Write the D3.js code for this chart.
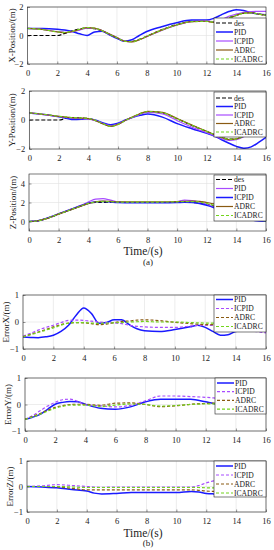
<!DOCTYPE html>
<html>
<head>
<meta charset="utf-8">
<script src="https://cdn.jsdelivr.net/npm/d3@7"></script>
<style>
body { margin: 0; background: #fff; }
svg text { font-family: "Liberation Serif", "Times New Roman", serif; fill: #222; }
</style>
</head>
<body>
<div id="chart"></div>
<script>
// ---- data ----
var xTicks = [0, 2, 4, 6, 8, 10, 12, 14, 16];

// (a) positions
var tPos = [0,1,2,2.5,3,3.5,4,4.5,5,5.5,6,6.5,7,7.5,8,9,10,11,12,12.5,13,13.5,14,14.5,15,15.5,16];
var xDes    = [0,0,0,0.15,0.32,0.46,0.52,0.48,0.32,0.08,-0.18,-0.38,-0.42,-0.27,-0.05,0.4,0.76,0.99,1.01,0.95,1.08,1.25,1.42,1.56,1.6,1.5,1.42];
var xPID    = [0.5,0.5,0.44,0.38,0.28,0.12,0.0,0.25,0.3,0.05,-0.2,-0.4,-0.3,0.0,0.28,0.62,0.9,1.08,1.08,1.2,1.45,1.68,1.8,1.75,1.6,1.5,1.45];
var xICPID  = [0.5,0.43,0.27,0.22,0.26,0.38,0.52,0.5,0.35,0.1,-0.14,-0.38,-0.44,-0.3,-0.08,0.36,0.72,0.98,1.02,0.96,1.1,1.35,1.5,1.62,1.68,1.7,1.7];
var xADRC   = [0.5,0.42,0.25,0.2,0.28,0.42,0.55,0.52,0.35,0.1,-0.15,-0.4,-0.45,-0.3,-0.07,0.38,0.74,0.98,1.0,0.92,1.05,1.2,1.4,1.58,1.6,1.5,1.42];
var xICADRC = [0.5,0.42,0.26,0.21,0.3,0.44,0.56,0.52,0.34,0.08,-0.16,-0.4,-0.44,-0.29,-0.06,0.38,0.74,0.97,0.99,0.95,1.06,1.22,1.4,1.55,1.58,1.5,1.42];

var yDes    = [0,0,0,0.12,0.16,0.14,0.1,-0.04,-0.26,-0.42,-0.28,-0.02,0.2,0.42,0.58,0.5,0.08,-0.38,-0.8,-1.0,-1.2,-1.32,-1.3,-1.1,-0.8,-0.5,-0.3];
var yPID    = [0.48,0.38,0.23,0.12,0.03,0.05,0.09,-0.02,-0.2,-0.32,-0.22,0.0,0.18,0.32,0.41,0.2,-0.25,-0.6,-0.92,-1.1,-1.36,-1.6,-1.82,-1.95,-1.85,-1.55,-1.2];
var yICPID  = [0.5,0.37,0.24,0.18,0.12,0.1,0.08,-0.06,-0.26,-0.4,-0.28,-0.03,0.2,0.4,0.52,0.42,-0.05,-0.5,-0.88,-1.08,-1.28,-1.4,-1.35,-1.15,-0.85,-0.55,-0.35];
var yADRC   = [0.5,0.38,0.25,0.2,0.15,0.13,0.1,-0.05,-0.28,-0.44,-0.3,-0.02,0.22,0.45,0.6,0.52,0.1,-0.35,-0.78,-1.0,-1.2,-1.35,-1.3,-1.1,-0.8,-0.5,-0.3];
var yICADRC = [0.5,0.39,0.26,0.21,0.16,0.14,0.11,-0.04,-0.27,-0.43,-0.3,-0.03,0.21,0.44,0.58,0.5,0.08,-0.37,-0.8,-1.0,-1.2,-1.33,-1.3,-1.1,-0.8,-0.5,-0.3];

var tZ = [0,0.5,1,1.5,2,2.5,3,3.5,4,4.5,5,5.5,6,7,8,9,10,10.5,11,11.5,12,12.5,13,14,15,16];
var zDes    = [0,0.04,0.22,0.48,0.78,1.06,1.35,1.64,1.9,2.0,2.0,2.0,2.0,2.0,2.0,2.0,2.0,2.0,2.0,1.95,1.8,1.6,1.35,0.8,0.3,0.05];
var zPID    = [0,0.05,0.25,0.52,0.82,1.1,1.4,1.7,2.05,2.35,2.4,2.25,2.08,2.0,2.0,2.0,2.1,2.25,2.2,2.05,1.8,1.5,1.2,0.6,0.2,0.05];
var zICPID  = [0,0.05,0.24,0.5,0.8,1.08,1.37,1.65,1.92,2.08,2.1,2.05,2.0,1.98,1.98,1.98,2.0,2.02,2.0,1.9,1.7,1.45,1.15,0.55,0.15,0.02];
var zADRC   = [0,0.05,0.22,0.48,0.78,1.05,1.33,1.62,1.88,2.08,2.15,2.12,2.08,2.08,2.08,2.08,2.1,2.12,2.15,2.12,2.0,1.85,1.6,1.0,0.4,0.1];
var zICADRC = [0,0.05,0.23,0.49,0.79,1.06,1.35,1.63,1.9,2.05,2.1,2.08,2.05,2.05,2.05,2.05,2.07,2.1,2.1,2.05,1.9,1.7,1.45,0.85,0.3,0.05];

// (b) errors
var tEx = [0,0.5,1,1.5,2,2.5,3,3.5,4,4.5,5,5.5,6,6.5,7,7.5,8,9,10,11,11.5,12,12.5,13,13.5,14,15,16];
var exPID    = [-0.56,-0.57,-0.58,-0.55,-0.49,-0.35,-0.12,0.25,0.52,0.32,-0.05,-0.02,0.08,0.08,-0.1,-0.25,-0.32,-0.35,-0.28,-0.18,-0.12,-0.2,-0.35,-0.49,-0.47,-0.35,-0.3,-0.3];
var exICPID  = [-0.52,-0.42,-0.3,-0.2,-0.12,-0.02,0.06,0.07,0.06,0.03,0.0,-0.02,-0.04,-0.06,-0.12,-0.16,-0.18,-0.2,-0.2,-0.15,-0.13,-0.12,-0.13,-0.15,-0.2,-0.25,-0.33,-0.4];
var exADRC   = [-0.55,-0.46,-0.37,-0.28,-0.18,-0.1,-0.04,-0.02,-0.03,-0.06,-0.1,-0.08,-0.02,0.02,0.04,0.07,0.08,0.05,-0.01,-0.06,-0.08,-0.1,-0.1,-0.08,-0.06,-0.05,-0.05,-0.05];
var exICADRC = [-0.55,-0.47,-0.39,-0.3,-0.22,-0.12,-0.04,-0.02,-0.02,-0.04,-0.05,-0.04,-0.03,-0.02,0.0,0.01,0.02,0.0,0.0,-0.02,-0.03,-0.04,-0.04,-0.04,-0.04,-0.04,-0.04,-0.04];

var tEy = [0,0.5,1,1.5,2,2.5,3,3.5,4,5,6,7,8,9,10,11,12,12.5,13,14,15,16];
var eyPID    = [-0.56,-0.48,-0.37,-0.18,0.01,0.08,0.11,0.1,0.01,-0.14,-0.18,-0.09,0.1,0.2,0.2,0.2,0.1,0.04,0.0,-0.02,0.0,0.02];
var eyICPID  = [-0.56,-0.42,-0.24,-0.06,0.08,0.18,0.2,0.12,0.0,-0.05,-0.09,-0.03,0.14,0.32,0.32,0.3,0.27,0.25,0.22,0.15,0.1,0.05];
var eyADRC   = [-0.56,-0.45,-0.34,-0.22,-0.11,-0.04,0.0,0.01,0.01,-0.03,0.05,0.06,0.0,-0.08,-0.05,0.01,0.04,0.05,0.05,0.04,0.03,0.03];
var eyICADRC = [-0.56,-0.47,-0.37,-0.25,-0.14,-0.07,-0.02,-0.02,-0.02,-0.07,-0.02,0.02,0.0,-0.06,-0.04,0.0,0.02,0.02,0.02,0.02,0.02,0.02];

var tEz = [0,1,2,3,4,4.5,5,6,7,8,9,10,11,11.5,12,12.5,13,14,15,16];
var ezPID    = [0,-0.02,-0.05,-0.12,-0.18,-0.26,-0.29,-0.27,-0.24,-0.24,-0.24,-0.24,-0.2,-0.22,-0.27,-0.29,-0.3,-0.3,-0.3,-0.3];
var ezICPID  = [0,0.03,0.07,0.04,0.0,-0.02,-0.03,-0.02,-0.02,-0.02,-0.02,-0.02,-0.02,0.04,0.14,0.22,0.26,0.3,0.3,0.3];
var ezADRC   = [0,0.0,-0.02,-0.07,-0.13,-0.13,-0.13,-0.13,-0.13,-0.13,-0.13,-0.13,-0.13,-0.15,-0.18,-0.19,-0.2,-0.2,-0.2,-0.2];
var ezICADRC = [0,0,0,-0.02,-0.04,-0.04,-0.04,-0.04,-0.04,-0.04,-0.04,-0.04,-0.04,-0.04,-0.05,-0.05,-0.05,-0.05,-0.05,-0.05];

// styles
var C = { des: "#000", blue: "#1a1aff", violet: "#a84cff", brown: "#8a5a12", green: "#73d41c" };
function S(name, t, v, color, dash, w) { return { name: name, t: t, v: v, color: color, dash: dash, w: w || 1.2 }; }

var panels = [
  { top: 7, bottom: 64, left: 27.5, dom: [-2, 2], yt: [-2, 0, 2], label: "X-Position/(m)", lx: 12,
    leg: [214, 18, 64, 23, 9],
    series: [S("des", tPos, xDes, C.des, "4,2"), S("PID", tPos, xPID, C.blue, null, 1.5),
             S("ICPID", tPos, xICPID, C.violet), S("ADRC", tPos, xADRC, C.brown), S("ICADRC", tPos, xICADRC, C.green, "3,2")] },
  { top: 91, bottom: 149, left: 29.3, dom: [-2, 2], yt: [-2, 0, 2], label: "Y-Position/(m)", lx: 12,
    leg: [214, 92, 137, 98, 8.5],
    series: [S("des", tPos, yDes, C.des, "4,2"), S("PID", tPos, yPID, C.blue, null, 1.5),
             S("ICPID", tPos, yICPID, C.violet), S("ADRC", tPos, yADRC, C.brown), S("ICADRC", tPos, yICADRC, C.green, "3,2")] },
  { top: 174, bottom: 231, left: 29, dom: [-1, 5], yt: [0, 2, 4], label: "Z-Position/(m)", lx: 13,
    leg: [214, 175, 221, 179.5, 9],
    series: [S("des", tZ, zDes, C.des, "4,2"), S("PID", tZ, zPID, C.violet),
             S("ICPID", tZ, zICPID, C.blue, null, 1.5), S("ADRC", tZ, zADRC, C.brown), S("ICADRC", tZ, zICADRC, C.green, "3,2")],
    xlabel: [255, "(a)", 265] },
  { top: 295, bottom: 349, left: 23, dom: [-1, 1], yt: [-1, 0, 1], label: "ErrorX/(m)", lx: 6,
    leg: [214, 295, 332, 299.5, 9],
    series: [S("PID", tEx, exPID, C.blue, null, 1.5), S("ICPID", tEx, exICPID, C.violet, "3,2"),
             S("ADRC", tEx, exADRC, C.brown, "3,2"), S("ICADRC", tEx, exICADRC, C.green, "3,2")] },
  { top: 378, bottom: 431, left: 25, dom: [-1, 1], yt: [-1, 0, 1], label: "ErrorY/(m)", lx: 8,
    leg: [215, 378, 414, 383, 8.7],
    series: [S("PID", tEy, eyPID, C.blue, null, 1.5), S("ICPID", tEy, eyICPID, C.violet, "3,2"),
             S("ADRC", tEy, eyADRC, C.brown, "3,2"), S("ICADRC", tEy, eyICADRC, C.green, "3,2")] },
  { top: 461, bottom: 512, left: 27, dom: [-1, 1], yt: [-1, 0, 1], label: "ErrorZ/(m)", lx: 10,
    leg: [214, 461, 497, 466, 9],
    series: [S("PID", tEz, ezPID, C.blue, null, 1.5), S("ICPID", tEz, ezICPID, C.violet, "3,2"),
             S("ADRC", tEz, ezADRC, C.brown, "3,2"), S("ICADRC", tEz, ezICADRC, C.green, "3,2")],
    xlabel: [537, "(b)", 546] }
];

var right = 266;
var svg = d3.select("#chart").append("svg").attr("width", 274).attr("height", 550);

panels.forEach(function (p, pi) {
  var x = d3.scaleLinear().domain([0, 16]).range([p.left, right]);
  var y = d3.scaleLinear().domain(p.dom).range([p.bottom, p.top]);
  var g = svg.append("g");
  var clipId = "clip" + pi;
  g.append("clipPath").attr("id", clipId).append("rect")
    .attr("x", p.left).attr("y", p.top).attr("width", right - p.left).attr("height", p.bottom - p.top);

  // grid
  g.selectAll(".vg").data(xTicks).enter().append("line")
    .attr("x1", function (d) { return x(d); }).attr("x2", function (d) { return x(d); })
    .attr("y1", p.top).attr("y2", p.bottom).attr("stroke", "#e0e0e0").attr("stroke-width", 0.6);
  g.selectAll(".hg").data(p.yt).enter().append("line")
    .attr("y1", function (d) { return y(d); }).attr("y2", function (d) { return y(d); })
    .attr("x1", p.left).attr("x2", right).attr("stroke", "#e0e0e0").attr("stroke-width", 0.6);

  // lines
  var lines = g.append("g").attr("clip-path", "url(#" + clipId + ")");
  p.series.forEach(function (s) {
    var pts = s.t.map(function (t, i) { return [t, s.v[i]]; });
    lines.append("path")
      .attr("d", d3.line().x(function (d) { return x(d[0]); }).y(function (d) { return y(d[1]); })
        .curve(d3.curveMonotoneX)(pts))
      .attr("fill", "none").attr("stroke", s.color).attr("stroke-width", s.w)
      .attr("stroke-dasharray", s.dash);
  });

  // axes
  var xa = g.append("g").attr("transform", "translate(0," + p.bottom + ")")
    .call(d3.axisBottom(x).tickValues(xTicks).tickSize(-2.5).tickPadding(6).tickFormat(d3.format("d")));
  var ya = g.append("g").attr("transform", "translate(" + p.left + ",0)")
    .call(d3.axisLeft(y).tickValues(p.yt).tickSize(-2.5).tickPadding(4).tickFormat(d3.format("d")));
  [xa, ya].forEach(function (a) {
    a.select(".domain").remove();
    a.selectAll(".tick line").attr("stroke", "#333").attr("stroke-width", 0.5);
    a.selectAll("text").style("font-size", "8.5px").attr("fill", "#222");
  });
  g.append("rect").attr("x", p.left).attr("y", p.top).attr("width", right - p.left).attr("height", p.bottom - p.top)
    .attr("fill", "none").attr("stroke", "#222").attr("stroke-width", 0.6);

  g.append("text").attr("transform", "translate(" + p.lx + "," + ((p.top + p.bottom) / 2) + ") rotate(-90)")
    .attr("text-anchor", "middle").attr("dy", "0.35em").style("font-size", "9px").text(p.label);

  // legend
  var L = p.leg;
  var lg = g.append("g");
  lg.append("rect").attr("x", L[0]).attr("y", L[1]).attr("width", right - L[0]).attr("height", L[2] - L[1])
    .attr("fill", "#fff").attr("stroke", "#222").attr("stroke-width", 0.6);
  p.series.forEach(function (s, i) {
    var yy = L[3] + i * L[4];
    lg.append("line").attr("x1", L[0] + 2).attr("x2", L[0] + 19).attr("y1", yy).attr("y2", yy)
      .attr("stroke", s.color).attr("stroke-width", s.w).attr("stroke-dasharray", s.dash);
    lg.append("text").attr("x", L[0] + 20).attr("y", yy).attr("dy", "0.33em")
      .style("font-size", "7.6px").text(s.name);
  });

  if (p.xlabel) {
    svg.append("text").attr("x", 143).attr("y", p.xlabel[0]).attr("text-anchor", "middle")
      .style("font-size", "11.5px").text("Time/(s)");
    svg.append("text").attr("x", 148).attr("y", p.xlabel[2]).attr("text-anchor", "middle")
      .style("font-size", "9px").text(p.xlabel[1]);
  }
});
</script>
</body>
</html>
